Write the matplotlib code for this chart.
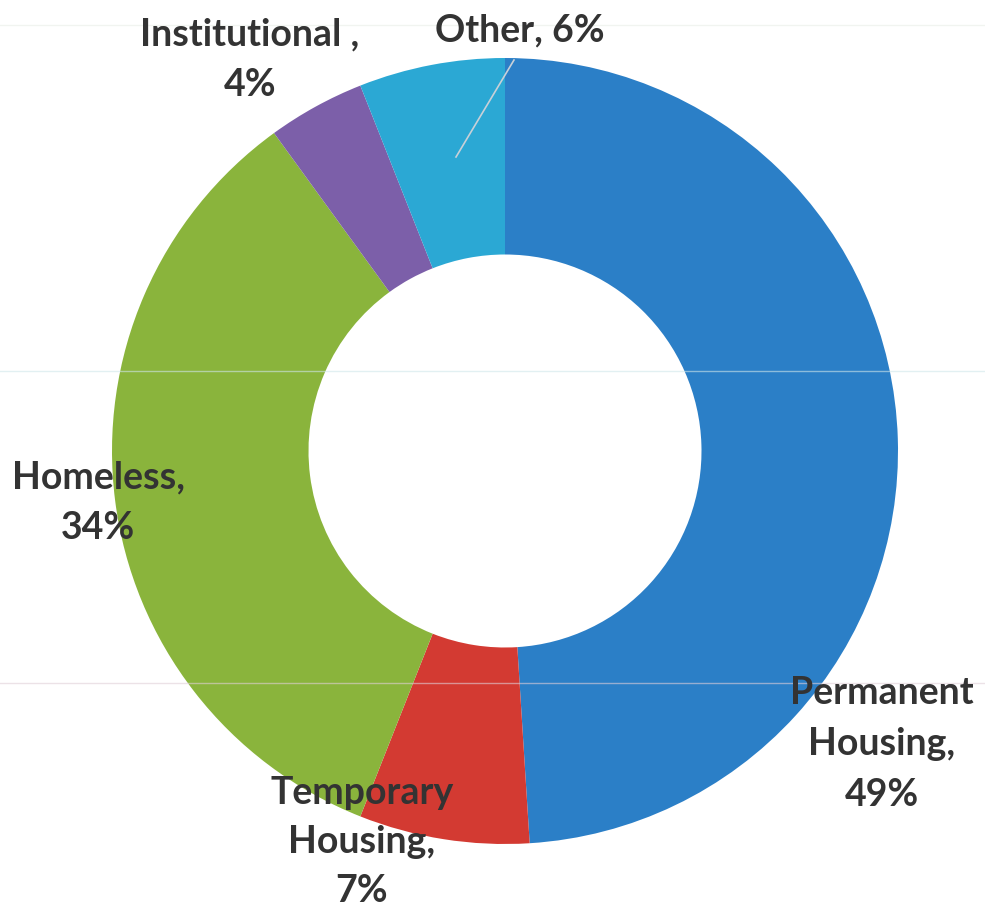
import matplotlib
matplotlib.use("Agg")
import matplotlib.pyplot as plt

categories = ["Permanent Housing", "Temporary Housing", "Homeless", "Institutional", "Other"]
values = [49, 7, 34, 4, 6]
label_texts = ["Permanent\nHousing,\n49%", "Temporary\nHousing,\n7%", "Homeless,\n34%",
               "Institutional ,\n4%", "Other, 6%"]
colors = ["#2b7fc7", "#d33a32", "#8ab43c", "#7c5fa9", "#2ba8d4"]

plt.rcParams['font.family'] = ['Lato', 'DejaVu Sans']

fig = plt.figure(figsize=(9.85, 9.10), dpi=100)
ax = fig.add_axes([0, 0, 1, 1])
cx, cy, R = 505, 451, 393.0

def px(x, y):
    return ((x - cx) / R, (cy - y) / R)

wedges, _ = ax.pie(values, colors=colors, startangle=90, counterclock=False,
                   radius=1.0, wedgeprops=dict(width=0.5, edgecolor='none'))

ax.set_xlim(-cx / R, (985 - cx) / R)
ax.set_ylim((cy - 910) / R, cy / R)
ax.set_aspect('equal', adjustable='datalim')
ax.axis('off')

# label positions (pixel centers)
label_pos = [(882, 744), (362, 842), (98, 503), (250, 60), (520, 30)]
spacings = [1.6, 1.55, 1.6, 1.6, 1.6]
for t, (lx, ly), ls in zip(label_texts, label_pos, spacings):
    x, y = px(lx, ly)
    ax.text(x, y, t, ha='center', va='center', fontsize=27, fontweight='bold',
            color='#333333', linespacing=ls, zorder=5)

# leader line for Other
x0, y0 = px(514, 60)
x1, y1 = px(456, 157)
ax.plot([x0, x1], [y0, y1], color='#c8d0d8', lw=1.2, zorder=4)

# faint scan lines
for yy, c in [(25, '#e8eee6'), (371, '#cfe6ea'), (683, '#e0cfd8')]:
    _, yv = px(0, yy)
    ax.axhline(yv, color=c, lw=1.0, alpha=0.6, zorder=3)

fig.savefig("out.png", dpi=100)
